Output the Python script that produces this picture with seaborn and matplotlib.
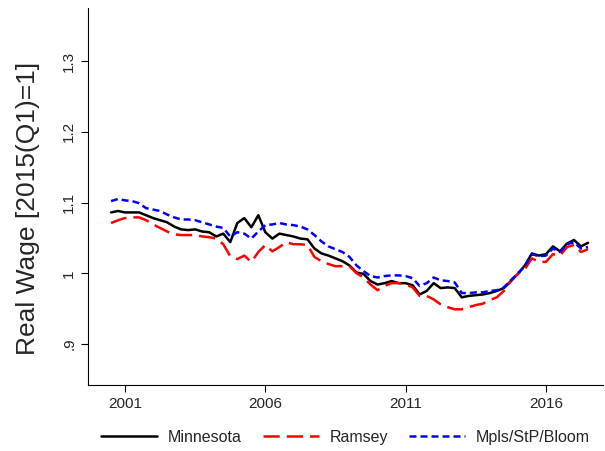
import pandas as pd
import numpy as np
import matplotlib
matplotlib.use('Agg')
import matplotlib.pyplot as plt
import seaborn as sns

# Set style
sns.set_style("ticks")
plt.rcParams['font.family'] = ['Liberation Sans', 'DejaVu Sans']

# Quarters 2000Q3 - 2017Q3
quarters = pd.period_range('2000Q3', '2017Q3', freq='Q')

minnesota = [1.086, 1.088, 1.086, 1.086, 1.086, 1.082, 1.078, 1.075, 1.072, 1.066,
             1.062, 1.061, 1.062, 1.059, 1.058, 1.052, 1.056, 1.044, 1.071, 1.078,
             1.065, 1.082, 1.058, 1.049, 1.056, 1.054, 1.052, 1.049, 1.048, 1.035,
             1.028, 1.025, 1.021, 1.017, 1.011, 1.001, 0.999, 0.989, 0.984, 0.986,
             0.989, 0.986, 0.986, 0.983, 0.970, 0.975, 0.986, 0.979, 0.980, 0.979,
             0.966, 0.968, 0.969, 0.970, 0.972, 0.975, 0.979, 0.989, 0.999, 1.011,
             1.028, 1.025, 1.027, 1.038, 1.031, 1.042, 1.047, 1.038, 1.043]

ramsey = [1.071, 1.075, 1.078, 1.079, 1.079, 1.075, 1.069, 1.064, 1.059, 1.055,
          1.054, 1.054, 1.054, 1.052, 1.051, 1.049, 1.041, 1.024, 1.020, 1.025,
          1.016, 1.030, 1.040, 1.031, 1.037, 1.044, 1.041, 1.041, 1.040, 1.023,
          1.017, 1.013, 1.010, 1.010, 1.010, 1.000, 0.994, 0.984, 0.976, 0.982,
          0.986, 0.986, 0.984, 0.980, 0.968, 0.968, 0.963, 0.956, 0.952, 0.949,
          0.949, 0.952, 0.955, 0.957, 0.962, 0.966, 0.975, 0.989, 0.999, 1.006,
          1.021, 1.016, 1.016, 1.027, 1.025, 1.037, 1.040, 1.030, 1.034]

mpls = [1.102, 1.105, 1.103, 1.102, 1.099, 1.092, 1.090, 1.088, 1.083, 1.079,
        1.076, 1.076, 1.075, 1.072, 1.069, 1.066, 1.064, 1.052, 1.058, 1.056,
        1.049, 1.059, 1.068, 1.069, 1.071, 1.069, 1.068, 1.066, 1.062, 1.054,
        1.045, 1.038, 1.034, 1.030, 1.023, 1.011, 1.003, 0.996, 0.994, 0.996,
        0.997, 0.997, 0.996, 0.993, 0.982, 0.986, 0.994, 0.990, 0.989, 0.987,
        0.972, 0.972, 0.973, 0.973, 0.975, 0.976, 0.980, 0.990, 1.000, 1.010,
        1.027, 1.024, 1.025, 1.035, 1.030, 1.041, 1.044, 1.035, 1.037]

series_names = ['Minnesota', 'Ramsey', 'Mpls/StP/Bloom']
colors = {'Minnesota': 'black', 'Ramsey': '#ff0000', 'Mpls/StP/Bloom': '#0000ff'}
dashes = {'Minnesota': '', 'Ramsey': (6.5, 2.8), 'Mpls/StP/Bloom': (2.8, 1.6)}
lw = 1.8

x = quarters.year + (quarters.quarter - 1) / 4
df = pd.DataFrame({'date': x, 'Minnesota': minnesota, 'Ramsey': ramsey,
                   'Mpls/StP/Bloom': mpls})
long_df = df.melt(id_vars='date', var_name='area', value_name='wage')

fig = plt.figure(figsize=(6.05, 4.51), dpi=100)
ax = fig.add_axes([0.1455, 0.1463, 0.851, 0.836])

sns.lineplot(data=long_df, x='date', y='wage', hue='area', style='area',
             hue_order=series_names, style_order=series_names,
             palette=colors, dashes=dashes, linewidth=lw, ax=ax, legend=False)

ax.set_xlim(1999.68, 2018.03)
ax.set_ylim(0.842, 1.375)
ax.set_xticks([2001, 2006, 2011, 2016])
ax.set_xticklabels(['2001', '2006', '2011', '2016'])
ax.set_yticks([0.9, 1.0, 1.1, 1.2, 1.3])
ax.set_yticklabels(['.9', '1', '1.1', '1.2', '1.3'], rotation=90, va='center')
ax.tick_params(axis='both', labelsize=11, length=5, width=0.8, color='black')
ax.set_xlabel('')
ax.set_ylabel('Real Wage [2015(Q1)=1]', fontsize=19)
ax.yaxis.set_label_coords(-0.093, 0.469)
sns.despine(ax=ax)
for sp in ['left', 'bottom']:
    ax.spines[sp].set_linewidth(0.8)
    ax.spines[sp].set_color('black')

# Legend below the plot
handles = [plt.Line2D([], [], color=colors[n], lw=lw,
                      linestyle=(0, dashes[n]) if dashes[n] else '-')
           for n in series_names]
fig.legend(handles, series_names, loc='center', bbox_to_anchor=(0.571, 0.03),
           ncol=3, frameon=False, fontsize=11.5, handlelength=3.5,
           columnspacing=1.3, handletextpad=0.7)

fig.savefig('out.png', dpi=100)
